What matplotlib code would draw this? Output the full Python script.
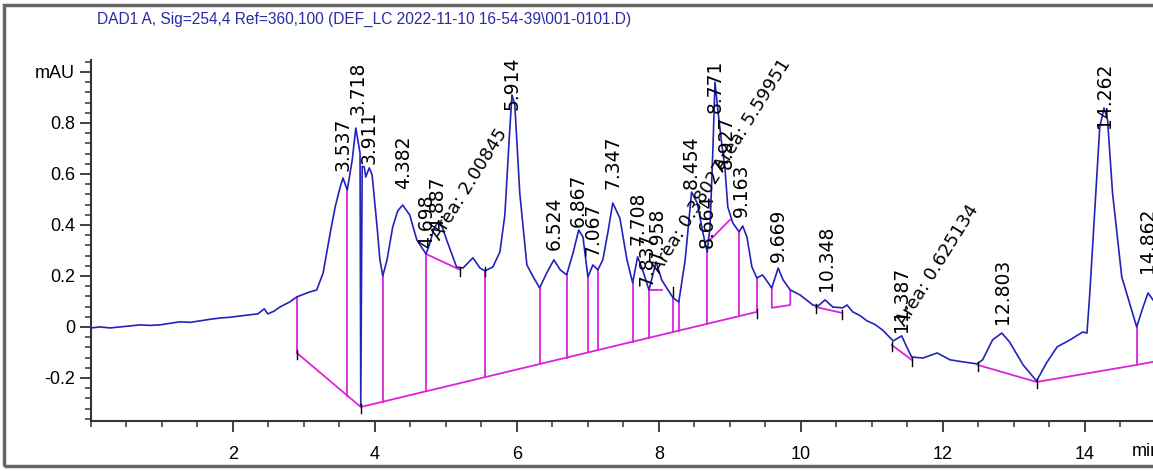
import matplotlib
matplotlib.use('Agg')
import matplotlib.pyplot as plt
from matplotlib.patches import Rectangle
from matplotlib.ticker import MultipleLocator, FixedLocator
import numpy as np

title = r'DAD1 A, Sig=254,4 Ref=360,100 (DEF_LC 2022-11-10 16-54-39\001-0101.D)'

# signal trace (min, mAU)
trace_t = [0.00, 0.13, 0.27, 0.41, 0.55, 0.69, 0.83, 0.97, 1.11, 1.25, 1.40, 1.54, 1.68, 1.82,
           1.96, 2.10, 2.22, 2.35, 2.44, 2.49, 2.58, 2.66, 2.80,
           2.90, 3.08, 3.18, 3.27, 3.37, 3.44, 3.51, 3.55, 3.61, 3.68, 3.73, 3.79, 3.80, 3.82,
           3.85, 3.87, 3.92, 3.96, 4.03, 4.07, 4.11, 4.17, 4.25, 4.32, 4.39, 4.49, 4.59, 4.72, 4.77,
           4.83, 4.89, 4.95, 5.01, 5.15, 5.24, 5.38, 5.48, 5.55, 5.66, 5.76, 5.83, 5.89, 5.93, 5.97, 6.04,
           6.14, 6.23, 6.32, 6.42, 6.52, 6.61, 6.70, 6.79, 6.87, 6.93, 7.00, 7.07, 7.14, 7.21,
           7.28, 7.35, 7.45, 7.55, 7.63, 7.70, 7.77, 7.86, 7.96, 8.04, 8.11, 8.20, 8.28, 8.37,
           8.46, 8.54, 8.62, 8.68, 8.72, 8.76, 8.79, 8.83, 8.89, 8.93, 8.97, 9.04, 9.13, 9.18,
           9.24, 9.31, 9.38, 9.46, 9.59, 9.68, 9.75, 9.85, 9.99, 10.17, 10.24, 10.34, 10.45,
           10.59, 10.65, 10.73, 10.83, 10.93, 11.04, 11.15, 11.30, 11.42, 11.49, 11.56, 11.72, 11.92, 12.10,
           12.28, 12.48, 12.56, 12.70, 12.83, 12.94, 13.13, 13.32, 13.46, 13.61, 13.79, 13.97,
           14.03, 14.07, 14.14, 14.21, 14.27, 14.32, 14.39, 14.52, 14.73, 14.82, 14.89, 14.96]
trace_v = [-0.004, 0.000, -0.004, 0.000, 0.004, 0.008, 0.006, 0.008, 0.014, 0.020, 0.018, 0.024, 0.030, 0.035,
           0.038, 0.043, 0.047, 0.051, 0.071, 0.051, 0.062, 0.078, 0.098,
           0.118, 0.137, 0.145, 0.212, 0.369, 0.471, 0.549, 0.584, 0.537, 0.655, 0.780, 0.682, -0.310, 0.630,
           0.627, 0.588, 0.624, 0.596, 0.392, 0.263, 0.200, 0.263, 0.392, 0.455, 0.478, 0.439, 0.341, 0.286, 0.325,
           0.385, 0.412, 0.390, 0.341, 0.235, 0.231, 0.271, 0.231, 0.220, 0.235, 0.294, 0.439, 0.733, 0.910, 0.871, 0.525,
           0.243, 0.196, 0.153, 0.212, 0.263, 0.224, 0.204, 0.290, 0.380, 0.353, 0.196, 0.243, 0.224, 0.263,
           0.369, 0.486, 0.427, 0.263, 0.173, 0.275, 0.224, 0.145, 0.255, 0.184, 0.153, 0.114, 0.098, 0.263,
           0.529, 0.486, 0.369, 0.294, 0.392, 0.694, 0.960, 0.851, 0.706, 0.624, 0.471, 0.408, 0.373, 0.396,
           0.353, 0.235, 0.192, 0.204, 0.153, 0.231, 0.184, 0.145, 0.125, 0.086, 0.082, 0.106, 0.078,
           0.075, 0.086, 0.059, 0.045, 0.024, 0.010, -0.012, -0.055, -0.035, -0.078, -0.118, -0.122, -0.102, -0.129,
           -0.137, -0.145, -0.129, -0.051, -0.024, -0.059, -0.149, -0.212, -0.141, -0.078, -0.051, -0.020,
           -0.024, 0.133, 0.459, 0.784, 0.859, 0.812, 0.525, 0.196, 0.000, 0.078, 0.133, 0.106]

# integration baselines
base_main_t = [2.90, 3.80, 9.38]
base_main_v = [-0.102, -0.314, 0.059]
base_segs = [
    ([2.90, 2.90], [0.118, -0.102]),
    ([9.59, 9.59, 9.85, 9.85], [0.153, 0.075, 0.086, 0.145]),
    ([10.21, 10.58], [0.078, 0.055]),
    ([11.28, 11.56], [-0.071, -0.129]),
    ([12.49, 13.32, 14.73, 14.96], [-0.149, -0.216, -0.149, -0.137]),
    ([4.72, 5.20], [0.286, 0.224]),
    ([7.86, 8.04], [0.145, 0.145]),
    ([8.72, 9.00], [0.341, 0.420]),
]
drop_main = [3.61, 4.11, 4.72, 5.55, 6.32, 6.70, 7.00, 7.14, 7.63, 7.86, 8.20, 8.28, 8.68, 9.13, 9.38]
drop_late = [14.73]
tick_marks = [2.90, 3.80, 5.20, 5.55, 8.20, 9.38, 10.21, 10.58, 11.28, 11.56, 12.49, 13.32]

# retention time labels: text, x, bottom of text
rt_text = ['3.537', '3.718', '3.911', '4.382', '4.698', '4.887', '5.914', '6.524', '6.867',
           '7.067', '7.347', '7.708', '7.837', '7.958', '8.454', '8.664', '8.771', '8.927',
           '9.163', '9.669', '10.348', '11.387', '12.803', '14.262', '14.862']
rt_x = [3.55, 3.76, 3.92, 4.40, 4.72, 4.88, 5.93, 6.52, 6.87, 7.07, 7.36, 7.70, 7.83, 7.97,
        8.46, 8.68, 8.79, 8.95, 9.16, 9.68, 10.36, 11.42, 12.84, 14.28, 14.88]
rt_y = [0.61, 0.83, 0.64, 0.54, 0.31, 0.38, 0.85, 0.30, 0.39, 0.28, 0.54, 0.32, 0.16, 0.26,
        0.54, 0.31, 0.84, 0.62, 0.43, 0.255, 0.14, -0.02, 0.01, 0.78, 0.21]

area_text = ['Area: 2.00845', 'Area: 0.38027', 'Area: 5.59951', 'Area: 0.625134']
area_x = [4.96, 8.06, 8.95, 11.51]
area_y = [0.33, 0.20, 0.60, -0.01]

blue = '#2222bb'
magenta = '#dd22dd'

fig = plt.figure(figsize=(11.53, 4.71), dpi=100)
ax = fig.add_axes([91/1153, 50/471, 1062/1153, 361/471])

ax.plot(trace_t, trace_v, color=blue, lw=1.2, zorder=3)

ax.plot(base_main_t, base_main_v, color=magenta, lw=1.3, zorder=2)
for st, sv in base_segs:
    ax.plot(st, sv, color=magenta, lw=1.3, zorder=2)
for t in drop_main:
    ax.plot([t, t], [np.interp(t, trace_t, trace_v), np.interp(t, base_main_t, base_main_v)],
            color=magenta, lw=1.3, zorder=2)
late_t, late_v = base_segs[4]
for t in drop_late:
    ax.plot([t, t], [np.interp(t, trace_t, trace_v), np.interp(t, late_t, late_v)],
            color=magenta, lw=1.3, zorder=2)

all_bt = base_main_t + sum([s[0] for s in base_segs], [])
all_bv = base_main_v + sum([s[1] for s in base_segs], [])
for t in tick_marks:
    v = all_bv[int(np.argmin(np.abs(np.array(all_bt) - t)))]
    ax.plot([t, t], [v - 0.025, v + 0.01], color='black', lw=1.0, zorder=4)

for s, x, y in zip(rt_text, rt_x, rt_y):
    ax.text(x, y, s, rotation=90, ha='center', va='bottom', fontsize=13.5,
            family='DejaVu Sans', color='black', zorder=5)
for s, x, y in zip(area_text, area_x, area_y):
    ax.text(x, y, s, rotation=58, ha='left', va='bottom', rotation_mode='anchor',
            fontsize=13, family='DejaVu Sans', color='black', zorder=5)

ax.set_xlim(0, 14.96)
ax.set_ylim(-0.369, 1.047)
for side in ['top', 'right']:
    ax.spines[side].set_visible(False)
for side in ['left', 'bottom']:
    ax.spines[side].set_linewidth(1.5)
    ax.spines[side].set_color('#333333')

ax.xaxis.set_major_locator(FixedLocator([2, 4, 6, 8, 10, 12, 14]))
ax.xaxis.set_minor_locator(MultipleLocator(0.5))
ax.yaxis.set_major_locator(FixedLocator([-0.2, 0, 0.2, 0.4, 0.6, 0.8, 1.0]))
ax.set_yticklabels(['-0.2', '0', '0.2', '0.4', '0.6', '0.8', 'mAU'])
ax.yaxis.set_minor_locator(MultipleLocator(0.04))
ax.tick_params(which='major', length=8, width=1.3, color='#333333', labelsize=13)
ax.tick_params(which='minor', length=4.5, width=1.1, color='#333333')
ax.tick_params(axis='x', pad=10)
for lab in ax.get_xticklabels() + ax.get_yticklabels():
    lab.set_family('Liberation Sans')

ax.text(14.66, -0.369 - 0.085, 'min', ha='left', va='top',
        fontsize=13, family='Liberation Sans')

fig.text(97/1153, 1 - 19/471, title, ha='left', va='center', fontsize=11.2,
         color='#2a2aa8', family='Liberation Sans')

fig.patches.append(Rectangle((4/1153, 5/471), 1.2, 461/471, transform=fig.transFigure,
                             fill=False, edgecolor='#666666', lw=2.5, figure=fig))

fig.savefig('out.png', dpi=100)
